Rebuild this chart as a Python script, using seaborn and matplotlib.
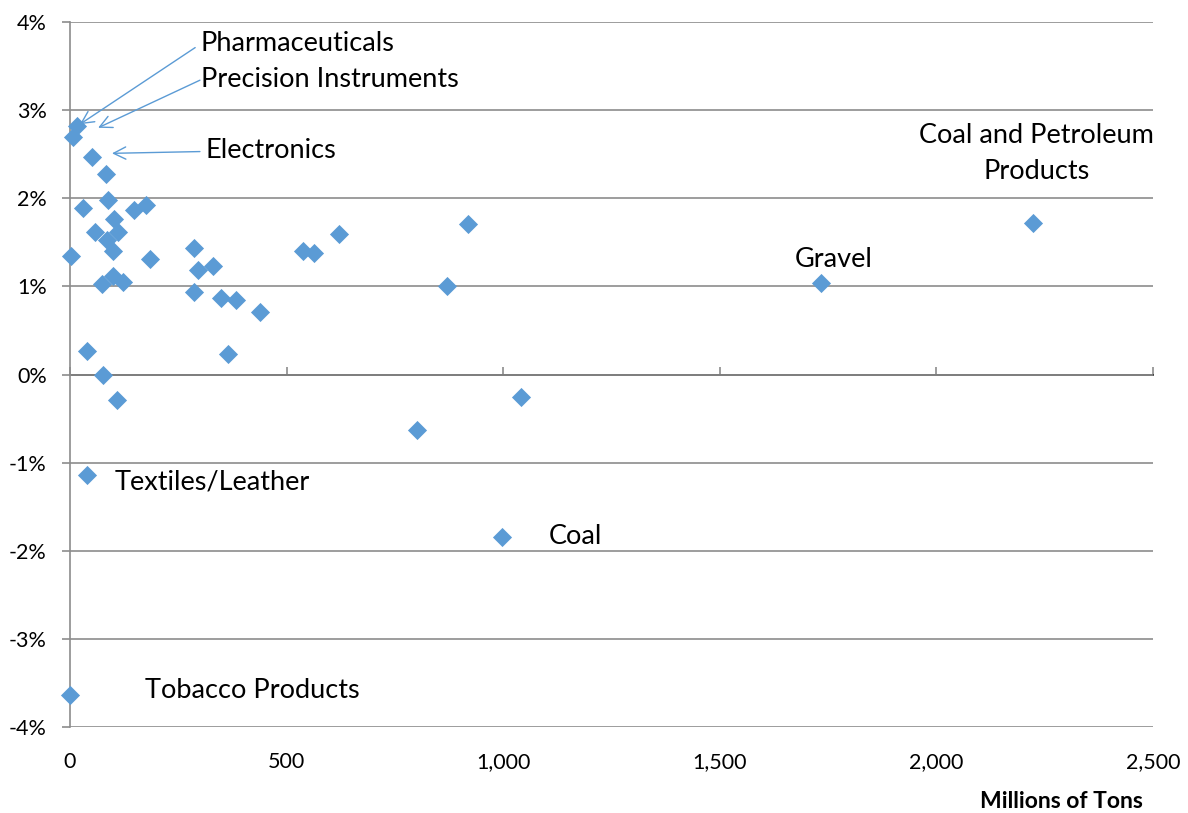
import matplotlib
matplotlib.use("Agg")
import matplotlib.pyplot as plt
from matplotlib.ticker import FuncFormatter, MultipleLocator
import seaborn as sns
import pandas as pd

# Freight volume (millions of tons) vs. annual growth rate (%) by commodity
tons = [0, 39, 997, 801, 1041, 108, 76, 39, 365, 439,
        349, 383, 286, 74, 99, 122, 870, 1734, 296, 330,
        2, 185, 286, 538, 563, 620, 919, 2223, 85, 99,
        58, 111, 102, 30, 88, 148, 175, 83, 51, 17, 7]
growth = [-3.64, -1.14, -1.84, -0.63, -0.25, -0.29, 0.00, 0.27, 0.23, 0.71,
          0.87, 0.85, 0.94, 1.03, 1.12, 1.05, 1.01, 1.04, 1.19, 1.23,
          1.35, 1.31, 1.43, 1.40, 1.38, 1.59, 1.71, 1.72, 1.53, 1.40,
          1.62, 1.62, 1.77, 1.89, 1.98, 1.87, 1.92, 2.27, 2.47, 2.82, 2.70]

# Plain text labels: (text, x, y, horizontal alignment)
plain_labels = [
    ("Coal and Petroleum\nProducts", 2232, 2.51, "center"),
    ("Gravel", 1674, 1.30, "left"),
    ("Textiles/Leather", 104, -1.22, "left"),
    ("Coal", 1106, -1.84, "left"),
    ("Tobacco Products", 173, -3.59, "left"),
]
# Labels with arrows: (text, text_x, text_y, arrow_start, arrow_end)
arrow_labels = [
    ("Pharmaceuticals", 302, 3.76, (289, 3.71), (23, 2.84)),
    ("Precision Instruments", 302, 3.35, (300, 3.34), (65, 2.80)),
    ("Electronics", 314, 2.54, (300, 2.53), (97, 2.51)),
]

x_ticks = [0, 500, 1000, 1500, 2000, 2500]

sns.set_theme(style="white")
plt.rcParams["font.family"] = ["Lato", "DejaVu Sans"]

blue = "#5B9BD5"
grid_c = "#8C8C8C"

df = pd.DataFrame({"tons": tons, "growth": growth})

fig = plt.figure(figsize=(11.88, 8.13), dpi=100)
ax = fig.add_axes([0.0589, 0.1058, 0.9116, 0.8671])

sns.scatterplot(data=df, x="tons", y="growth", marker="D", s=95,
                color=blue, linewidth=0, ax=ax, clip_on=False, zorder=3)

ax.set_xlim(0, 2500)
ax.set_ylim(-4, 4)
ax.yaxis.set_major_locator(MultipleLocator(1))
ax.yaxis.set_major_formatter(FuncFormatter(lambda v, p: f"{v:.0f}%"))
ax.set_xticks(x_ticks)
ax.xaxis.set_major_formatter(FuncFormatter(lambda v, p: f"{v:,.0f}"))

ax.grid(axis="y", color=grid_c, linewidth=1.2)
ax.grid(axis="x", visible=False)
ax.set_axisbelow(True)

for side in ("top", "right", "bottom"):
    ax.spines[side].set_visible(False)
ax.spines["left"].set_color(grid_c)
ax.spines["left"].set_linewidth(1.2)

ax.tick_params(axis="y", which="major", length=5.8, width=1.2, color=grid_c,
               direction="out", pad=11, labelsize=15.5, labelcolor="black", left=True)
ax.tick_params(axis="x", which="major", length=0, pad=18, labelsize=15.5,
               labelcolor="black")

# Horizontal axis line through zero with downward tick marks
sec = ax.secondary_xaxis(0.5)
sec.set_xticks(x_ticks)
sec.tick_params(axis="x", length=5.8, width=1.2, color=grid_c, direction="out",
                labelbottom=False)
sec.spines["bottom"].set_color(grid_c)
sec.spines["bottom"].set_linewidth(1.2)
sec.xaxis.set_major_formatter(FuncFormatter(lambda v, p: ""))

ax.set_xlabel("")
ax.set_ylabel("")

for text, x, y, ha in plain_labels:
    ax.text(x, y, text, ha=ha, va="center", fontsize=19.5, color="black",
            linespacing=1.55)

for text, tx, ty, start, end in arrow_labels:
    ax.annotate("", xy=end, xytext=start,
                arrowprops=dict(arrowstyle="->", color=blue, lw=1.0,
                                mutation_scale=22, shrinkA=0, shrinkB=0))
    ax.text(tx, ty, text, ha="left", va="center", fontsize=19.5, color="black")

fig.text(1143 / 1188, 1 - 801 / 813, "Millions of Tons", ha="right",
         va="center", fontsize=16.5, fontweight="bold", color="black")

fig.savefig("out.png", dpi=100)
